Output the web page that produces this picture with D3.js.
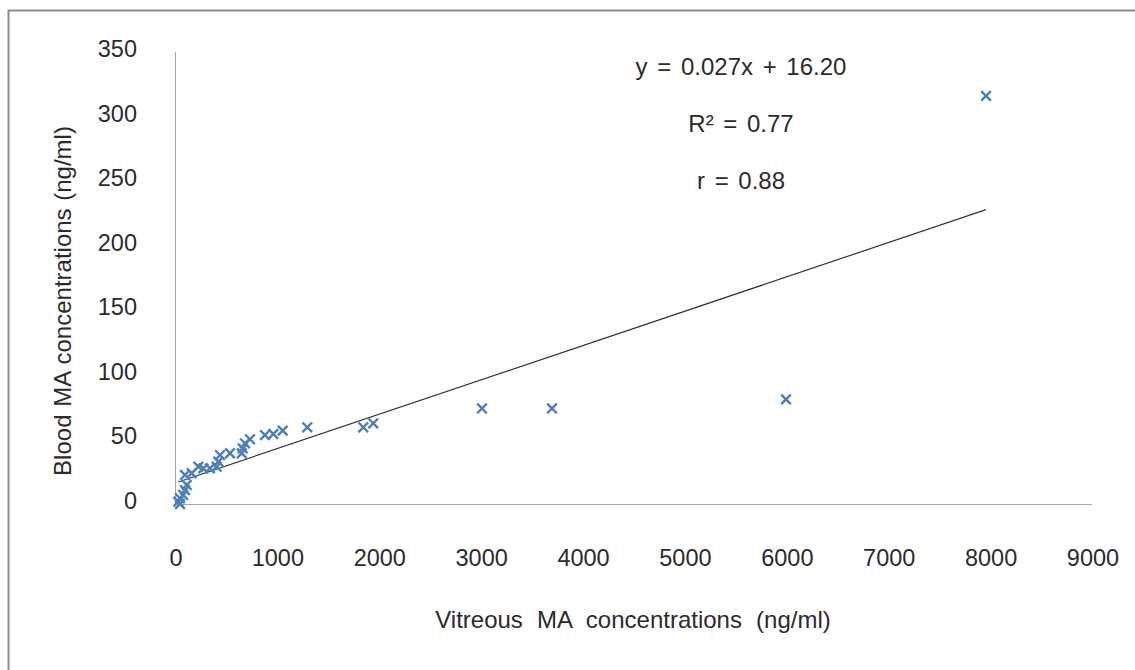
<!DOCTYPE html>
<html>
<head>
<meta charset="utf-8">
<script src="https://cdn.jsdelivr.net/npm/d3@7"></script>
<style>
  body { margin: 0; background: #fff; }
  text { font-family: "Liberation Sans", Arial, sans-serif; fill: #2b2b2b; }
</style>
</head>
<body>
<div id="chart"></div>
<script>
// values
let vitreous = [7960, 5997, 3700, 3013, 1946, 1848, 1298, 1057, 965, 883, 736, 687, 664, 655,
                540, 442, 425, 409, 343, 278, 229, 164, 98, 115, 98, 81, 49, 32, 49];
let blood = [316, 81, 74, 74, 62.5, 59.4, 59.4, 56.8, 54.2, 53.4, 50.1, 47, 43.1, 39.3,
             39.3, 37.9, 32.8, 28.9, 27.6, 27.6, 28.9, 23.8, 22.5, 14.7, 10.8, 7, 4.4, 1.8, 0];
let xTicks = [0, 1000, 2000, 3000, 4000, 5000, 6000, 7000, 8000, 9000];
let yTicks = [0, 50, 100, 150, 200, 250, 300, 350];
let trendSlope = 0.0266;
let trendIntercept = 16.2;
let notes = ["y = 0.027x + 16.20", "R² = 0.77", "r = 0.88"];

let width = 1135, height = 670;
let plotLeft = 175, plotRight = 1092, plotTop = 52, plotBottom = 504;

let svg = d3.select("#chart").append("svg")
  .attr("width", width)
  .attr("height", height);

// chart frame
svg.append("rect")
  .attr("x", 8.5).attr("y", 10.5)
  .attr("width", 1140).attr("height", 700)
  .attr("fill", "none")
  .attr("stroke", "#8c8c8c")
  .attr("stroke-width", 2);

let x = d3.scaleLinear().domain([0, 9000]).range([plotLeft, plotRight]);
let y = d3.scaleLinear().domain([0, 350]).range([plotBottom, plotTop]);

// axes lines
svg.append("line")
  .attr("x1", x(0)).attr("x2", x(9000))
  .attr("y1", y(0) + 0.5).attr("y2", y(0) + 0.5)
  .attr("stroke", "#a6a6a6");
svg.append("line")
  .attr("x1", x(0) + 0.5).attr("x2", x(0) + 0.5)
  .attr("y1", y(0)).attr("y2", y(350))
  .attr("stroke", "#a6a6a6");

// tick labels
svg.selectAll(".xt").data(xTicks).enter().append("text")
  .attr("x", function(d) { return x(d) + 1; })
  .attr("y", 566)
  .attr("text-anchor", "middle")
  .attr("font-size", 23.5)
  .text(function(d) { return d; });

svg.selectAll(".yt").data(yTicks).enter().append("text")
  .attr("x", 137)
  .attr("y", function(d) { return y(d) + 5; })
  .attr("text-anchor", "end")
  .attr("font-size", 23.5)
  .text(function(d) { return d; });

// axis titles
svg.append("text")
  .attr("x", 633).attr("y", 628)
  .attr("text-anchor", "middle")
  .attr("font-size", 24)
  .attr("word-spacing", 7.5)
  .text("Vitreous MA concentrations (ng/ml)");

svg.append("text")
  .attr("transform", "translate(71,301) rotate(-90)")
  .attr("text-anchor", "middle")
  .attr("font-size", 24)
  .attr("word-spacing", 1)
  .text("Blood MA concentrations (ng/ml)");

// trend line
let xExt = d3.extent(vitreous);
svg.append("line")
  .attr("x1", x(xExt[0])).attr("y1", y(trendSlope * xExt[0] + trendIntercept))
  .attr("x2", x(xExt[1])).attr("y2", y(trendSlope * xExt[1] + trendIntercept))
  .attr("stroke", "#333")
  .attr("stroke-width", 1.2);

// x markers
let pts = vitreous.map(function(v, i) { return {vx: v, bl: blood[i]}; });
let s = 4.8;
svg.append("g").selectAll("path").data(pts).enter().append("path")
  .attr("d", function(d) {
    let cx = x(d.vx), cy = y(d.bl);
    return "M" + (cx - s) + " " + (cy - s) + "L" + (cx + s) + " " + (cy + s) +
           "M" + (cx - s) + " " + (cy + s) + "L" + (cx + s) + " " + (cy - s);
  })
  .attr("stroke", "#4a7ebb")
  .attr("stroke-width", 2.4)
  .attr("fill", "none");

// regression notes
svg.selectAll(".note").data(notes).enter().append("text")
  .attr("x", 741)
  .attr("y", function(d, i) { return 75 + i * 57; })
  .attr("text-anchor", "middle")
  .attr("font-size", 24)
  .attr("word-spacing", 3)
  .text(function(d) { return d; });
</script>
</body>
</html>
